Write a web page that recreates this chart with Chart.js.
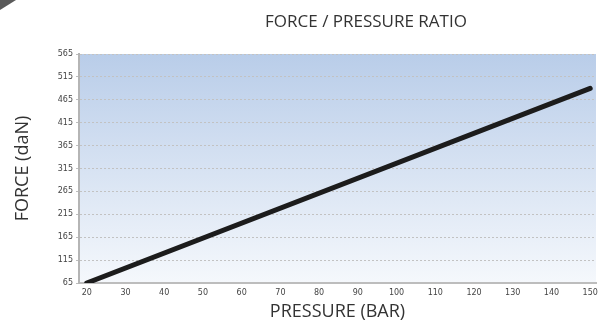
<!DOCTYPE html>
<html>
<head>
<meta charset="utf-8">
<script src="https://cdn.jsdelivr.net/npm/chart.js@4/dist/chart.umd.min.js"></script>
<style>
	body { margin: 0; background: #fff; }
	#wrap { position: relative; width: 616px; height: 325px; }
	#corner { position: absolute; left: 0; top: 0; width: 0; height: 0;
		border-top: 10px solid #5a5a5a; border-right: 16px solid transparent; }
	#title { position: absolute; left: 0; top: 9px; width: 732px; text-align: center;
		font-family: "Open Sans", sans-serif; font-size: 17px; color: #333; }
</style>
</head>
<body>
<div id="wrap">
	<canvas id="myChart" width="616" height="325"></canvas>
	<div id="corner"></div>
	<div id="title">FORCE / PRESSURE RATIO</div>
</div>
<script>
let pressure = [20, 150];
let force = [65, 490];
let x_ticks = [20, 30, 40, 50, 60, 70, 80, 90, 100, 110, 120, 130, 140, 150];
let y_ticks = [65, 115, 165, 215, 265, 315, 365, 415, 465, 515, 565];

let tick_font = { family: "DejaVu Sans", size: 8 };
let title_font = { family: "Open Sans", size: 18 };

// фон области графика - градиент
const bgPlugin = {
	id: 'bg',
	beforeDraw(chart) {
		const {ctx, chartArea: a} = chart;
		let g = ctx.createLinearGradient(0, a.top, 0, a.bottom);
		g.addColorStop(0, '#b9cde9');
		g.addColorStop(1, '#f5f8fc');
		ctx.save();
		ctx.fillStyle = g;
		ctx.fillRect(a.left, a.top, a.right - a.left, a.bottom - a.top);
		ctx.restore();
	}
};

let data = {
	datasets: [{
		data: pressure.map((p, i) => ({x: p, y: force[i]})),
		borderColor: '#1c1c1c',
		borderWidth: 5,
		borderCapStyle: 'round',
		pointRadius: 0,
		fill: false
	}]
};

let options = {
	animation: false,
	responsive: false,
	layout: { padding: { top: 54, right: 20, left: 0, bottom: 0 } },
	plugins: { legend: { display: false }, tooltip: { enabled: false } },
	scales: {
		x: {
			type: 'linear',
			min: 18,
			max: 151.5,
			afterBuildTicks: (s) => { s.ticks = x_ticks.map(v => ({value: v})); },
			afterFit: (s) => { s.height = 42; },
			grid: { display: false },
			border: { color: '#bdbdbd', width: 2 },
			ticks: { font: tick_font, color: '#444', padding: -3, maxRotation: 0, autoSkip: false },
			title: { display: true, text: 'PRESSURE (BAR)', font: title_font, color: '#333', padding: { top: 0, bottom: 2 } }
		},
		y: {
			min: 65,
			max: 565,
			afterBuildTicks: (s) => { s.ticks = y_ticks.map(v => ({value: v})); },
			afterFit: (s) => { s.width = 79; },
			grid: { color: '#c2c2c2', tickLength: 3, tickColor: '#bdbdbd', tickBorderDash: [] },
			border: { color: '#b5b5b5', width: 2, dash: [2, 2] },
			ticks: { font: tick_font, color: '#444', padding: 3 },
			title: { display: true, text: 'FORCE (daN)', font: title_font, color: '#333', padding: { top: 12, bottom: 0 } }
		}
	}
};

const ctx = document.getElementById('myChart').getContext('2d');
let myChart = new Chart(ctx, {type: 'line', data, options, plugins: [bgPlugin]});
</script>
</body>
</html>
